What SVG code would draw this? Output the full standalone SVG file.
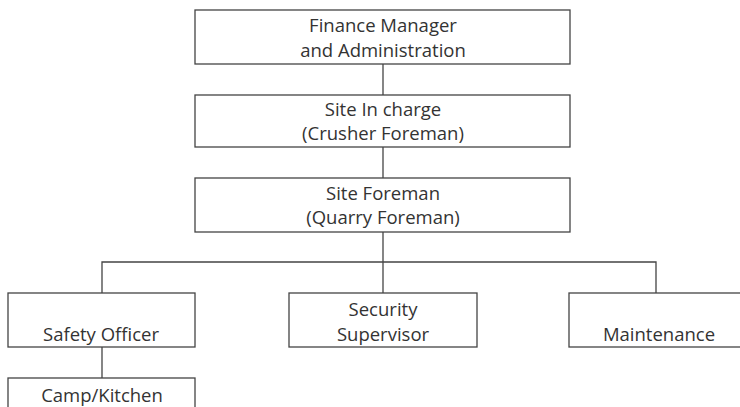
<svg xmlns="http://www.w3.org/2000/svg" width="740" height="407" viewBox="0 0 740 407">
<style>
.box{fill:#fff;stroke:#444;stroke-width:1.3}
.ln{fill:none;stroke:#444;stroke-width:1.3}
text{font-family:"Open Sans","Liberation Sans",sans-serif;font-size:18.5px;fill:#333;text-anchor:middle}
</style>
<rect width="740" height="407" fill="#fff"/>
<g id="connectors">
<line class="ln" x1="383" y1="64" x2="383" y2="95"/>
<line class="ln" x1="383" y1="147" x2="383" y2="178"/>
<line class="ln" x1="383" y1="232" x2="383" y2="293"/>
<polyline class="ln" points="102,293 102,262 656,262 656,293"/>
<line class="ln" x1="102" y1="347" x2="102" y2="378"/>
</g>
<g id="finance">
<rect class="box" x="195" y="10" width="375" height="54"/>
<text x="383" y="32">Finance Manager</text>
<text x="383" y="57">and Administration</text>
</g>
<g id="site-in-charge">
<rect class="box" x="195" y="95" width="375" height="52"/>
<text x="383" y="116">Site In charge</text>
<text x="383" y="140">(Crusher Foreman)</text>
</g>
<g id="site-foreman">
<rect class="box" x="195" y="178" width="375" height="54"/>
<text x="383" y="200">Site Foreman</text>
<text x="383" y="224">(Quarry Foreman)</text>
</g>
<g id="safety">
<rect class="box" x="8" y="293" width="187" height="54"/>
<text x="101" y="341">Safety Officer</text>
</g>
<g id="security">
<rect class="box" x="289" y="293" width="188" height="54"/>
<text x="383" y="316">Security</text>
<text x="383" y="341">Supervisor</text>
</g>
<g id="maintenance">
<rect class="box" x="569" y="293" width="178" height="54"/>
<text x="659" y="341">Maintenance</text>
</g>
<g id="camp">
<rect class="box" x="8" y="378" width="187" height="40"/>
<text x="102" y="402">Camp/Kitchen</text>
</g>
</svg>
